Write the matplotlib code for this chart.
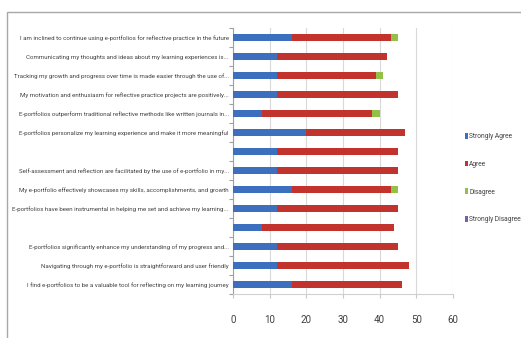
import matplotlib.pyplot as plt
import matplotlib.patches as mpatches
import numpy as np

plt.rcParams['font.family'] = ['Roboto', 'DejaVu Sans']

statements = [
    'I am inclined to continue using e-portfolios for reflective practice in the future',
    'Communicating my thoughts and ideas about my learning experiences is...',
    'Tracking my growth and progress over time is made easier through the use of...',
    'My motivation and enthusiasm for reflective practice projects are positively...',
    'E-portfolios outperform traditional reflective methods like written journals in...',
    'E-portfolios personalize my learning experience and make it more meaningful',
    '',
    'Self-assessment and reflection are facilitated by the use of e-portfolio in my...',
    'My e-portfolio effectively showcases my skills, accomplishments, and growth',
    'E-portfolios have been instrumental in helping me set and achieve my learning...',
    '',
    'E-portfolios significantly enhance my understanding of my progress and...',
    'Navigating through my e-portfolio is straightforward and user friendly',
    'I find e-portfolios to be a valuable tool for reflecting on my learning journey',
]
strongly_agree = [16, 12, 12, 12, 8, 20, 12, 12, 16, 12, 8, 12, 12, 16]
agree = [27, 30, 27, 33, 30, 27, 33, 33, 27, 33, 36, 33, 36, 30]
disagree = [2, 0, 2, 0, 2, 0, 0, 0, 2, 0, 0, 0, 0, 0]
strongly_disagree = [0] * 14

series = [
    ('Strongly Agree', strongly_agree, '#3d6fbf'),
    ('Agree', agree, '#c2332e'),
    ('Disagree', disagree, '#93c047'),
    ('Strongly Disagree', strongly_disagree, '#7a5fa5'),
]

fig = plt.figure(figsize=(5.21, 3.38), dpi=100)
ax = fig.add_axes([233 / 521, 1 - 294 / 338, 220 / 521, 266 / 338])

y = np.arange(len(statements))
left = np.zeros(len(statements))
for name, vals, col in series:
    ax.barh(y, vals, left=left, height=0.4, color=col, label=name, zorder=3)
    left += np.array(vals)

ax.set_ylim(len(statements) - 0.5, -0.5)
ax.set_xlim(0, 60)
ax.set_xticks(range(0, 61, 10))
ax.set_yticks(y)
ax.set_yticklabels(statements, fontsize=6.5, color='#404040')
ax.set_yticks(np.arange(-0.5, len(statements), 1), minor=True)
ax.tick_params(axis='y', which='major', length=0, pad=3)
ax.tick_params(axis='y', which='minor', length=3, color='#a0a0a0', width=0.8)
ax.tick_params(axis='x', length=3, color='#c8c8c8', width=0.8, pad=12,
               labelsize=7, labelcolor='#404040')
ax.grid(axis='x', color='#d9d9d9', lw=0.8, zorder=0)
for s in ['top', 'right']:
    ax.spines[s].set_visible(False)
ax.spines['left'].set_color('#a0a0a0')
ax.spines['bottom'].set_color('#d0d0d0')

# shrink the category labels so the longest fits between the frame and the axis
fig.canvas.draw()
r = fig.canvas.get_renderer()
widest = max(t.get_window_extent(r).width for t in ax.get_yticklabels())
lab_size = min(6.5, 6.5 * 214 / widest)
for t in ax.get_yticklabels():
    t.set_fontsize(lab_size)

fig.legend(loc='upper left', bbox_to_anchor=(459 / 521, 1 - 127 / 338),
           frameon=False, fontsize=4.8, handlelength=0.45,
           handleheight=0.9, handletextpad=0.2, labelspacing=3.1,
           labelcolor='#404040')

fig.add_artist(mpatches.Rectangle((7 / 521, -0.1), 1.2, 1 - 12 / 338 + 0.1,
                                  transform=fig.transFigure, fill=False,
                                  edgecolor='#a8a8a8', lw=1))

fig.savefig('out.png', dpi=100)
